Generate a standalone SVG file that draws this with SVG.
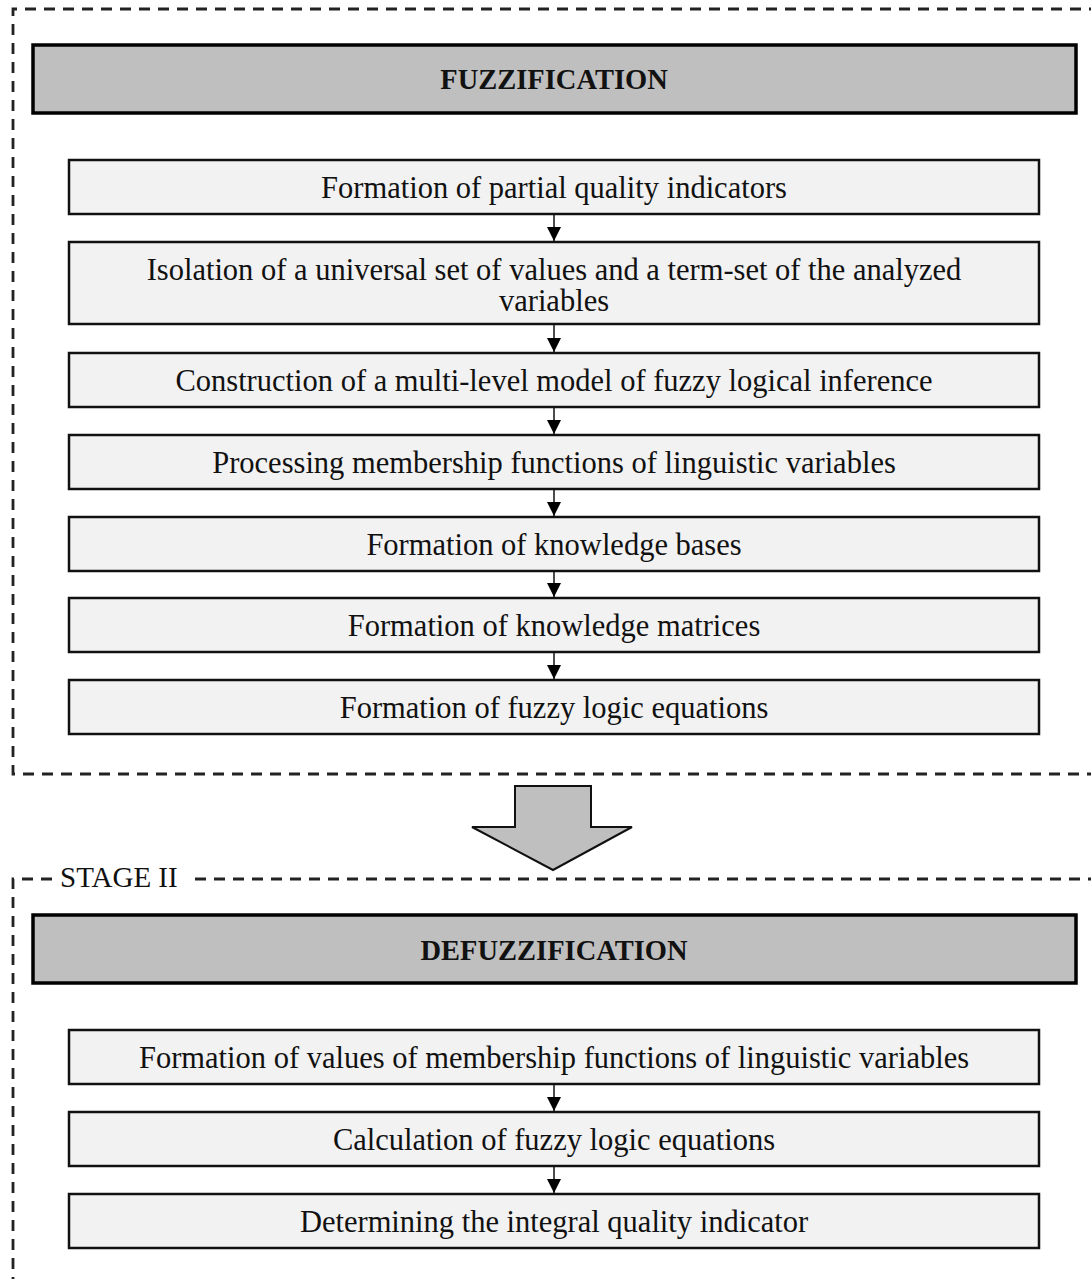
<svg xmlns="http://www.w3.org/2000/svg" width="1091" height="1279" viewBox="0 0 1091 1279">
<style>
.frame{fill:none;stroke:#222;stroke-width:2.8;stroke-dasharray:11,8}
.hdr{fill:#bfbfbf;stroke:#000;stroke-width:3.5}
.box{fill:#f2f2f2;stroke:#111;stroke-width:2.5}
.t{font-family:"Liberation Serif",serif;font-size:30.5px;fill:#111;text-anchor:middle}
.h{font-family:"Liberation Serif",serif;font-size:28.5px;font-weight:bold;fill:#111;text-anchor:middle}
.c{stroke:#111;stroke-width:1.5;fill:none;marker-end:url(#ah)}
</style>
<defs>
<marker id="ah" markerWidth="16" markerHeight="16" refX="14" refY="7" orient="auto" markerUnits="userSpaceOnUse">
<path d="M0,0 L14,7 L0,14 Z" fill="#000"/>
</marker>
</defs>
<rect width="1091" height="1279" fill="#fff"/>
<g id="stage1-frame">
<path class="frame" d="M1100,9 H13 V774 H1100"/>
</g>
<g id="stage2-frame">
<path class="frame" d="M52,879 H13 V1290"/>
<path class="frame" d="M195,879 H1100"/>
<text x="60" y="887" font-family="Liberation Serif,serif" font-size="29" fill="#111">STAGE II</text>
</g>
<g id="fuzzification">
<rect class="hdr" x="33" y="45" width="1043" height="68"/>
<text class="h" x="554" y="89">FUZZIFICATION</text>
</g>
<g id="n1"><rect class="box" x="69" y="160" width="970" height="54"/><text class="t" x="554" y="198">Formation of partial quality indicators</text></g>
<g id="n2"><rect class="box" x="69" y="242" width="970" height="82"/><text class="t" x="554" y="280">Isolation of a universal set of values and a term-set of the analyzed</text><text class="t" x="554" y="311">variables</text></g>
<g id="n3"><rect class="box" x="69" y="353" width="970" height="54"/><text class="t" x="554" y="391">Construction of a multi-level model of fuzzy logical inference</text></g>
<g id="n4"><rect class="box" x="69" y="435" width="970" height="54"/><text class="t" x="554" y="473">Processing membership functions of linguistic variables</text></g>
<g id="n5"><rect class="box" x="69" y="517" width="970" height="54"/><text class="t" x="554" y="555">Formation of knowledge bases</text></g>
<g id="n6"><rect class="box" x="69" y="598" width="970" height="54"/><text class="t" x="554" y="636">Formation of knowledge matrices</text></g>
<g id="n7"><rect class="box" x="69" y="680" width="970" height="54"/><text class="t" x="554" y="718">Formation of fuzzy logic equations</text></g>
<g id="big-arrow">
<path d="M515,786 H591 V827 H632 L553,870 L472,827 H515 Z" fill="#bfbfbf" stroke="#111" stroke-width="2"/>
</g>
<g id="defuzzification">
<rect class="hdr" x="33" y="915" width="1043" height="68"/>
<text class="h" x="554" y="960">DEFUZZIFICATION</text>
</g>
<g id="m1"><rect class="box" x="69" y="1030" width="970" height="54"/><text class="t" x="554" y="1068">Formation of values of membership functions of linguistic variables</text></g>
<g id="m2"><rect class="box" x="69" y="1112" width="970" height="54"/><text class="t" x="554" y="1150">Calculation of fuzzy logic equations</text></g>
<g id="m3"><rect class="box" x="69" y="1194" width="970" height="54"/><text class="t" x="554" y="1232">Determining the integral quality indicator</text></g>
<g id="connectors">
<line class="c" x1="554" y1="214" x2="554" y2="241"/>
<line class="c" x1="554" y1="324" x2="554" y2="352"/>
<line class="c" x1="554" y1="407" x2="554" y2="434"/>
<line class="c" x1="554" y1="489" x2="554" y2="516"/>
<line class="c" x1="554" y1="571" x2="554" y2="597"/>
<line class="c" x1="554" y1="652" x2="554" y2="679"/>
<line class="c" x1="554" y1="1084" x2="554" y2="1111"/>
<line class="c" x1="554" y1="1166" x2="554" y2="1193"/>
</g>
</svg>
